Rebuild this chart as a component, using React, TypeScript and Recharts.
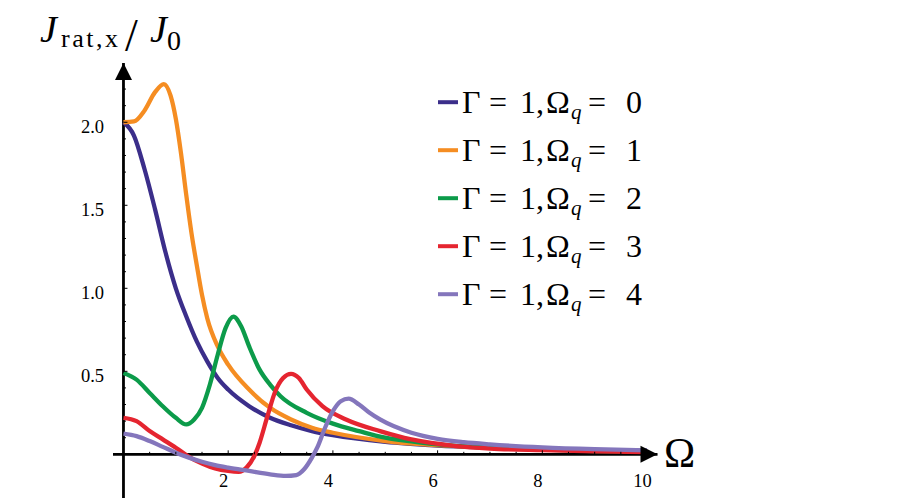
import React from 'react';
import { LineChart, Line, XAxis, YAxis, ReferenceLine, ReferenceDot } from 'recharts';

const OMEGA_Q0 = [0, 0.2, 0.4, 0.6, 0.8, 1.0, 1.2, 1.4, 1.6, 1.8, 2.0, 2.4, 2.8, 3.2, 3.6, 4, 5, 6, 7, 8, 9, 10];
const J_Q0 = [2.0, 1.92, 1.72, 1.48, 1.22, 1.0, 0.83, 0.68, 0.56, 0.46, 0.39, 0.29, 0.22, 0.175, 0.14, 0.115, 0.075, 0.053, 0.04, 0.03, 0.024, 0.02];

const OMEGA_Q1 = [0, 0.2, 0.4, 0.6, 0.77, 0.9, 1.0, 1.1, 1.2, 1.3, 1.4, 1.5, 1.6, 1.8, 2.0, 2.4, 2.8, 3.2, 3.6, 4, 5, 6, 7, 8, 9, 10];
const J_Q1 = [2.0, 2.005, 2.07, 2.18, 2.23, 2.16, 2.02, 1.81, 1.56, 1.33, 1.14, 0.96, 0.82, 0.65, 0.54, 0.39, 0.28, 0.21, 0.16, 0.13, 0.08, 0.055, 0.04, 0.03, 0.024, 0.019];

const OMEGA_Q2 = [0, 0.25, 0.5, 0.75, 1.0, 1.2, 1.35, 1.5, 1.65, 1.8, 1.95, 2.1, 2.25, 2.4, 2.6, 2.8, 3.0, 3.5, 4.0, 4.5, 5.0, 5.5, 6, 7, 8, 9, 10];
const J_Q2 = [0.49, 0.45, 0.37, 0.29, 0.22, 0.18, 0.21, 0.28, 0.42, 0.6, 0.76, 0.83, 0.77, 0.65, 0.51, 0.42, 0.35, 0.25, 0.185, 0.14, 0.1, 0.078, 0.06, 0.04, 0.028, 0.02, 0.016];

const OMEGA_Q3 = [0, 0.25, 0.5, 0.75, 1.0, 1.25, 1.5, 1.75, 2.0, 2.2, 2.35, 2.5, 2.6, 2.75, 2.9, 3.05, 3.2, 3.35, 3.5, 3.8, 4.25, 4.9, 5.5, 6.35, 7, 8, 9, 10];
const J_Q3 = [0.22, 0.2, 0.14, 0.09, 0.04, -0.015, -0.055, -0.085, -0.1, -0.105, -0.08, -0.01, 0.07, 0.23, 0.38, 0.46, 0.485, 0.46, 0.39, 0.29, 0.21, 0.14, 0.09, 0.05, 0.035, 0.025, 0.018, 0.014];

const OMEGA_Q4 = [0, 0.25, 0.5, 0.75, 1.0, 1.25, 1.5, 1.75, 2.0, 2.4, 2.8, 3.1, 3.3, 3.45, 3.6, 3.7, 3.85, 4.0, 4.15, 4.3, 4.5, 4.7, 4.9, 5.5, 6.0, 6.5, 7, 8, 9, 10];
const J_Q4 = [0.125, 0.11, 0.08, 0.045, 0.01, -0.02, -0.045, -0.065, -0.08, -0.1, -0.12, -0.13, -0.125, -0.09, -0.02, 0.04, 0.16, 0.26, 0.32, 0.335, 0.3, 0.25, 0.21, 0.13, 0.093, 0.073, 0.06, 0.042, 0.031, 0.024];

const OMEGA_Q_VALUES = [0, 1, 2, 3, 4];
const COLORS = ['#3B2E8A', '#F58D22', '#0C9B4A', '#E52530', '#8476BC'];

const X_MAJOR = [2, 4, 6, 8, 10];
const X_MINOR = [0.5, 1, 1.5, 2.5, 3, 3.5, 4.5, 5, 5.5, 6.5, 7, 7.5, 8.5, 9, 9.5];
const Y_MAJOR = [0.5, 1.0, 1.5, 2.0];
const Y_MINOR = [0.1, 0.2, 0.3, 0.4, 0.6, 0.7, 0.8, 0.9, 1.1, 1.2, 1.3, 1.4, 1.6, 1.7, 1.8, 1.9, 2.1, 2.2, 2.3];

const W = 913;
const H = 501;
const X_DOMAIN: [number, number] = [-0.2, 10.2];
const Y_DOMAIN: [number, number] = [-0.263, 2.357];
const FONT = '"Liberation Serif", "Times New Roman", serif';

const zip = (xs: number[], ys: number[]) => xs.map((omega, i) => ({ omega, j: ys[i] }));

const SERIES = [
  zip(OMEGA_Q0, J_Q0),
  zip(OMEGA_Q1, J_Q1),
  zip(OMEGA_Q2, J_Q2),
  zip(OMEGA_Q3, J_Q3),
  zip(OMEGA_Q4, J_Q4),
];

const xTick = (major: boolean, value: number) => (props: any) => {
  const { cx, cy } = props;
  return (
    <g>
      <line x1={cx} x2={cx} y1={cy} y2={cy - (major ? 4 : 2.5)} stroke="#000" strokeWidth={1} />
      {major && (
        <text x={cx - 4.5} y={cy + 33} textAnchor="middle" fontFamily={FONT} fontSize={18.5} fill="#000">
          {value}
        </text>
      )}
    </g>
  );
};

const yTick = (major: boolean, value: number) => (props: any) => {
  const { cx, cy } = props;
  return (
    <g>
      <line x1={cx} x2={cx + (major ? 4 : 2.5)} y1={cy} y2={cy} stroke="#000" strokeWidth={1} />
      {major && (
        <text x={104} y={cy + 11} textAnchor="end" fontFamily={FONT} fontSize={18.5} fill="#000">
          {value.toFixed(1)}
        </text>
      )}
    </g>
  );
};

const xArrow = (props: any) => {
  const { cx, cy } = props;
  return <path d={`M${cx} ${cy} L${cx - 17} ${cy - 8.5} L${cx - 17} ${cy + 8.5} Z`} fill="#000" />;
};

const yArrow = (props: any) => {
  const { cx, cy } = props;
  return <path d={`M${cx} ${cy} L${cx - 8.5} ${cy + 17} L${cx + 8.5} ${cy + 17} Z`} fill="#000" />;
};

export default function App() {
  return (
    <div style={{ position: 'absolute', left: 0, top: 0, width: W, height: H, background: '#fff' }}>
      <LineChart width={W} height={H} margin={{ top: 63, right: 255.5, bottom: 3, left: 113 }}>
        <XAxis dataKey="omega" type="number" domain={X_DOMAIN} allowDataOverflow hide />
        <YAxis type="number" domain={Y_DOMAIN} allowDataOverflow hide />
        <ReferenceLine y={0} stroke="#000" strokeWidth={2.6} />
        <ReferenceLine x={0} stroke="#000" strokeWidth={2.8} />
        {X_MINOR.map(v => (
          <ReferenceDot key={`xm${v}`} x={v} y={0} shape={xTick(false, v)} />
        ))}
        {X_MAJOR.map(v => (
          <ReferenceDot key={`xM${v}`} x={v} y={0} shape={xTick(true, v)} />
        ))}
        {Y_MINOR.map(v => (
          <ReferenceDot key={`ym${v}`} x={0} y={v} shape={yTick(false, v)} />
        ))}
        {Y_MAJOR.map(v => (
          <ReferenceDot key={`yM${v}`} x={0} y={v} shape={yTick(true, v)} />
        ))}
        {SERIES.map((data, i) => (
          <Line
            key={i}
            data={data}
            dataKey="j"
            type="monotone"
            stroke={COLORS[i]}
            strokeWidth={4.3}
            dot={false}
            activeDot={false}
            isAnimationActive={false}
          />
        ))}
        <ReferenceDot x={X_DOMAIN[1]} y={0} ifOverflow="visible" shape={xArrow} />
        <ReferenceDot x={0} y={Y_DOMAIN[1]} ifOverflow="visible" shape={yArrow} />
      </LineChart>

      <svg width={W} height={H} style={{ position: 'absolute', left: 0, top: 0, pointerEvents: 'none' }}>
        {/* axis titles */}
        <g fontFamily={FONT} fill="#000">
          <text x={40} y={42} fontSize={38} fontStyle="italic">J</text>
          <text x={61} y={47} fontSize={26} letterSpacing={2.5}>rat,x</text>
          <text x={125} y={51} fontSize={46}>/</text>
          <text x={150} y={42} fontSize={38} fontStyle="italic">J</text>
          <text x={167} y={50} fontSize={28}>0</text>
          <text x={664} y={467} fontSize={42}>Ω</text>
        </g>
        {/* legend */}
        {OMEGA_Q_VALUES.map((q, i) => {
          const base = 112.7 + 48 * i;
          return (
            <g key={q} fontFamily={FONT} fill="#000">
              <line x1={438} x2={458} y1={base - 10.5} y2={base - 10.5} stroke={COLORS[i]} strokeWidth={4} />
              <text x={462} y={base} fontSize={32}>Γ</text>
              <text x={489} y={base} fontSize={32}>=</text>
              <text x={520} y={base} fontSize={32}>1</text>
              <text x={536} y={base} fontSize={32}>,</text>
              <text x={546} y={base} fontSize={32}>Ω</text>
              <text x={571} y={base + 6} fontSize={21} fontStyle="italic">q</text>
              <text x={588} y={base} fontSize={32}>=</text>
              <text x={626} y={base} fontSize={32}>{q}</text>
            </g>
          );
        })}
      </svg>
    </div>
  );
}
